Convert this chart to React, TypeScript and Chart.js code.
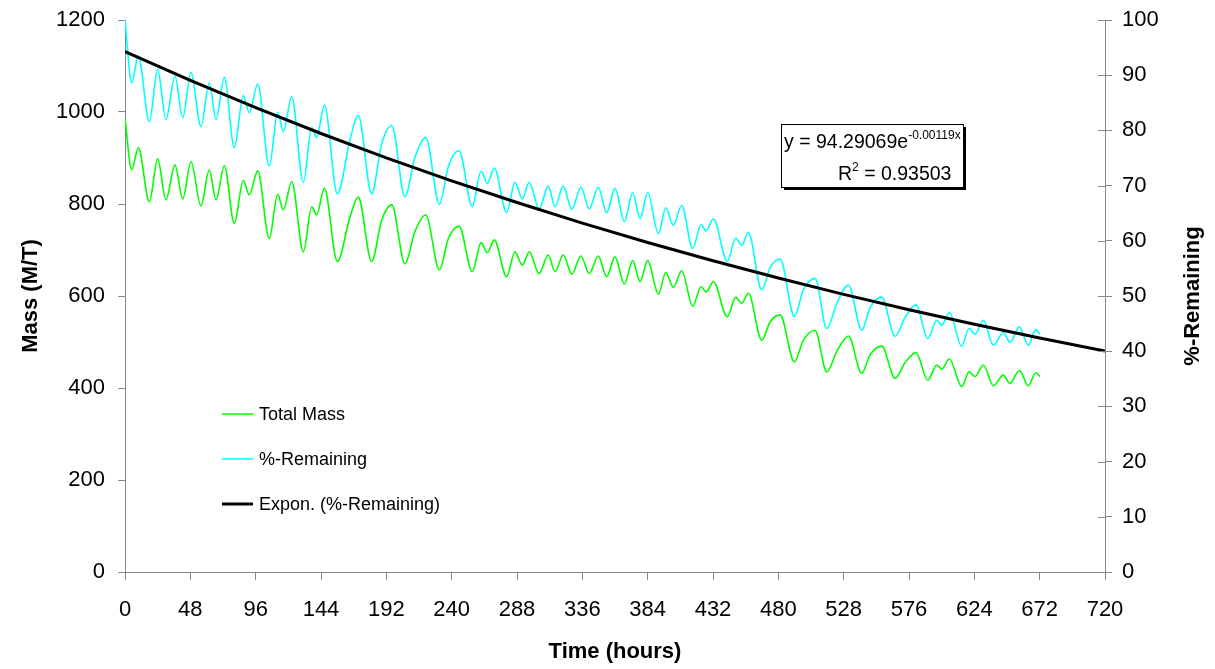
import React, { useEffect, useRef } from "react";
import { Chart, registerables } from "chart.js";

Chart.register(...registerables);

// ---- Data ----
const HOURS = [
  0, 4.9, 9.8, 17.9, 24, 30.1, 36.7, 42.4, 48.5, 55.8, 61.9, 66.9, 73, 80.3, 86.9, 91.3, 97.5,
  106, 112.2, 116.3, 122.5, 131, 137.2, 140.8, 146.5, 156, 165.3, 171.4, 181.2, 188.6, 196,
  205.7, 213, 221, 231, 237.6, 245.4, 255.2, 261.6, 266.2, 271.3, 280.4, 286.5, 291.9, 297,
  304.2, 311, 315.9, 322, 328.2, 335, 341.1, 347.7, 353.9, 360, 366.9, 373, 378.4, 384,
  391.9, 397.3, 402.9, 409, 417.1, 423.2, 426.9, 432.3, 442.5, 448.7, 453.1, 458, 467.8,
  474, 481.3, 491.8, 498.4, 507, 515.6, 522.9, 531.5, 541.3, 547.4, 556, 565.8, 573.1,
  581.2, 589.8, 596.4, 600, 605.7, 614.7, 620.1, 624.5, 630.6, 638, 645.3, 650.2, 657.1,
  663.7, 669.1, 672.3,
];

const TOTAL_MASS = [
  986, 874, 922, 805, 898, 809, 885, 811, 892, 796, 874, 809, 883, 758, 851, 820, 872,
  725, 821, 787, 849, 696, 794, 776, 834, 675, 772, 815, 675, 765, 798,
  670, 740, 776, 657, 725, 752, 653, 716, 694, 722, 642, 696, 667, 696,
  649, 689, 653, 689, 648, 687, 649, 687, 642, 685, 626, 677, 631, 677,
  604, 651, 619, 655, 578, 620, 609, 631, 555, 597, 584, 606, 504,
  544, 559, 457, 504, 525, 435, 479, 513, 432, 472, 491, 421, 455,
  477, 417, 450, 441, 463, 403, 435, 425, 450, 405, 428, 410, 438,
  405, 433, 425,
];

const PCT_REMAINING = [
  100.0, 88.6, 93.5, 81.6, 91.1, 82.0, 89.8, 82.3, 90.5, 80.7, 88.6, 82.0, 89.6, 76.9, 86.3, 83.2, 88.4,
  73.5, 83.3, 79.8, 86.1, 70.6, 80.5, 78.7, 84.6, 68.5, 78.3, 82.7, 68.5, 77.6, 80.9,
  68.0, 75.1, 78.7, 66.6, 73.5, 76.3, 66.2, 72.6, 70.4, 73.2, 65.1, 70.6, 67.6, 70.6,
  65.8, 69.9, 66.2, 69.9, 65.7, 69.7, 65.8, 69.7, 65.1, 69.5, 63.5, 68.7, 64.0, 68.7,
  61.3, 66.0, 62.8, 66.4, 58.6, 62.9, 61.8, 64.0, 56.3, 60.5, 59.2, 61.5, 51.1,
  55.2, 56.7, 46.3, 51.1, 53.2, 44.1, 48.6, 52.0, 43.8, 47.9, 49.8, 42.7, 46.1,
  48.4, 42.3, 45.6, 44.7, 47.0, 40.9, 44.1, 43.1, 45.6, 41.1, 43.4, 41.6, 44.4,
  41.1, 43.9, 43.1,
];

// Exponential trendline y = 94.29069 e^(-0.00119x), tabulated every 48 h
const TREND_HOURS = [0, 48, 96, 144, 192, 240, 288, 336, 384, 432, 480, 528, 576, 624, 672, 720];
const TREND_PCT = [94.29, 89.06, 84.11, 79.44, 75.03, 70.87, 66.93, 63.21, 59.7, 56.39, 53.26, 50.3, 47.51, 44.87, 42.38, 40.03];

const LEGEND_LABELS = ["Total Mass", "%-Remaining", "Expon. (%-Remaining)"];
const EQ_MAIN = "y = 94.29069e";
const EQ_EXP = "-0.00119x";
const R2_TEXT = " = 0.93503";

const FONT = '"Liberation Sans", Arial, Helvetica, sans-serif';
const AXIS = "#868686";
const GREEN = "#00ff00";
const CYAN = "#00ffff";

const overlayPlugin = {
  id: "overlay",
  afterDraw(chart: any) {
    const ctx = chart.ctx as CanvasRenderingContext2D;
    const area = chart.chartArea;
    const y1 = chart.scales.y1;

    // inner half of the crossing tick marks on the right axis
    ctx.save();
    ctx.strokeStyle = AXIS;
    ctx.lineWidth = 1;
    for (const t of y1.ticks) {
      const py = Math.round(y1.getPixelForValue(t.value)) + 0.5;
      ctx.beginPath();
      ctx.moveTo(area.right - 7, py);
      ctx.lineTo(area.right, py);
      ctx.stroke();
    }
    ctx.restore();

    // right axis title (reads bottom-to-top)
    ctx.save();
    ctx.fillStyle = "#000";
    ctx.font = `bold 22px ${FONT}`;
    ctx.textAlign = "center";
    ctx.textBaseline = "middle";
    ctx.translate(1193, (area.top + area.bottom) / 2);
    ctx.rotate(-Math.PI / 2);
    ctx.fillText("%-Remaining", 0, 0);
    ctx.restore();

    // legend inside the plot
    ctx.save();
    const colors = [GREEN, CYAN, "#000"];
    const widths = [1.5, 1.5, 3];
    const ys = [414, 459, 504];
    ctx.font = `18px ${FONT}`;
    ctx.textBaseline = "middle";
    ctx.textAlign = "left";
    for (let i = 0; i < LEGEND_LABELS.length; i++) {
      ctx.strokeStyle = colors[i];
      ctx.lineWidth = widths[i];
      ctx.beginPath();
      ctx.moveTo(222, ys[i]);
      ctx.lineTo(253, ys[i]);
      ctx.stroke();
      ctx.fillStyle = "#000";
      ctx.fillText(LEGEND_LABELS[i], 259, ys[i] + 1);
    }
    ctx.restore();

    // equation box with shadow
    ctx.save();
    const bx = 781, by = 124, bw = 182, bh = 63;
    ctx.fillStyle = "#000";
    ctx.fillRect(bx + 3, by + 3, bw, bh);
    ctx.fillStyle = "#fff";
    ctx.fillRect(bx, by, bw, bh);
    ctx.strokeStyle = "#000";
    ctx.lineWidth = 1;
    ctx.strokeRect(bx + 0.5, by + 0.5, bw, bh);
    ctx.fillStyle = "#000";
    ctx.textBaseline = "alphabetic";
    ctx.textAlign = "left";
    ctx.font = `19.5px ${FONT}`;
    ctx.fillText(EQ_MAIN, 784, 148);
    const w1 = ctx.measureText(EQ_MAIN).width;
    ctx.font = `12px ${FONT}`;
    ctx.fillText(EQ_EXP, 784 + w1, 139);
    ctx.font = `19.5px ${FONT}`;
    const rx = 838;
    ctx.fillText("R", rx, 180);
    const wr = ctx.measureText("R").width;
    ctx.font = `12px ${FONT}`;
    ctx.fillText("2", rx + wr, 171);
    const w2 = ctx.measureText("2").width;
    ctx.font = `19.5px ${FONT}`;
    ctx.fillText(R2_TEXT, rx + wr + w2, 180);
    ctx.restore();
  },
};

export default function App() {
  const ref = useRef<HTMLCanvasElement | null>(null);

  useEffect(() => {
    if (!ref.current) return;
    const massPts = HOURS.map((h, i) => ({ x: h, y: TOTAL_MASS[i] }));
    const pctPts = HOURS.map((h, i) => ({ x: h, y: PCT_REMAINING[i] }));
    const trendPts = TREND_HOURS.map((h, i) => ({ x: h, y: TREND_PCT[i] }));

    const tickFont = { family: FONT, size: 22 };
    const titleFont = { family: FONT, size: 22, weight: "bold" as const };
    const plain = (v: any) => String(v);

    const chart = new Chart(ref.current, {
      type: "line",
      data: {
        datasets: [
          {
            label: LEGEND_LABELS[2],
            data: trendPts,
            yAxisID: "y1",
            borderColor: "#000",
            borderWidth: 3,
            pointRadius: 0,
            order: 0,
          },
          {
            label: LEGEND_LABELS[1],
            data: pctPts,
            yAxisID: "y1",
            borderColor: CYAN,
            borderWidth: 1.6,
            pointRadius: 0,
            cubicInterpolationMode: "monotone",
            order: 1,
          },
          {
            label: LEGEND_LABELS[0],
            data: massPts,
            yAxisID: "y",
            borderColor: GREEN,
            borderWidth: 1.6,
            pointRadius: 0,
            cubicInterpolationMode: "monotone",
            order: 2,
          },
        ],
      },
      options: {
        animation: false,
        responsive: true,
        maintainAspectRatio: false,
        layout: { padding: { top: 20, left: 0, right: 0, bottom: 0 } },
        plugins: { legend: { display: false }, tooltip: { enabled: false } },
        scales: {
          x: {
            type: "linear",
            min: 0,
            max: 720,
            ticks: { stepSize: 48, autoSkip: false, maxRotation: 0, color: "#000", font: tickFont, padding: 17, callback: plain },
            grid: { drawOnChartArea: false, drawTicks: true, tickLength: 8, color: AXIS },
            border: { display: true, color: AXIS },
            title: { display: true, text: "Time (hours)", color: "#000", font: titleFont, padding: { top: 4, bottom: 4 } },
            afterFit: (s: any) => { s.height = 97; s.paddingLeft = 0; s.paddingRight = 0; },
          },
          y: {
            type: "linear",
            position: "left",
            min: 0,
            max: 1200,
            ticks: { stepSize: 200, color: "#000", font: tickFont, padding: 13, callback: plain },
            grid: { drawOnChartArea: false, drawTicks: true, tickLength: 7, color: AXIS },
            border: { display: true, color: AXIS },
            title: { display: true, text: "Mass (M/T)", color: "#000", font: titleFont, padding: { top: 18, bottom: 4 } },
            afterFit: (s: any) => { s.width = 125; s.paddingTop = 0; s.paddingBottom = 0; },
          },
          y1: {
            type: "linear",
            position: "right",
            min: 0,
            max: 100,
            ticks: { stepSize: 10, color: "#000", font: tickFont, padding: 10, callback: plain },
            grid: { drawOnChartArea: false, drawTicks: true, tickLength: 7, color: AXIS },
            border: { display: true, color: AXIS },
            afterFit: (s: any) => { s.width = 110; s.paddingTop = 0; s.paddingBottom = 0; },
          },
        },
      },
      plugins: [overlayPlugin],
    });
    return () => chart.destroy();
  }, []);

  return (
    <div style={{ position: "absolute", left: 0, top: 0, width: 1215, height: 669, background: "#fff" }}>
      <canvas ref={ref} />
    </div>
  );
}
